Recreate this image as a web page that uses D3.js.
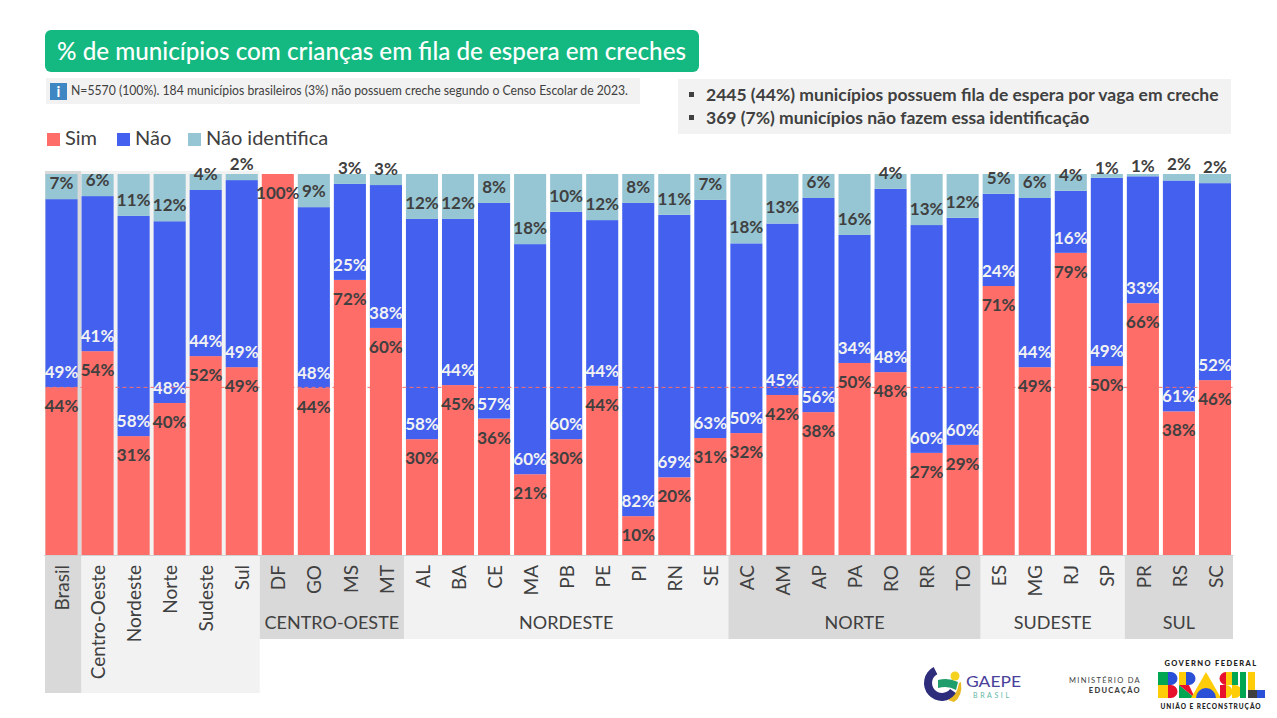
<!DOCTYPE html>
<html>
<head>
<meta charset="utf-8">
<script src="https://cdn.jsdelivr.net/npm/d3@7"></script>
<style>
  html, body { margin: 0; padding: 0; background: #fff; }
  svg { display: block; }
  text { font-family: Lato, "Open Sans", sans-serif; fill: #404040; }
</style>
</head>
<body>
<svg id="board" width="1277" height="718"></svg>
<script>
var categories = ['Brasil', 'Centro-Oeste', 'Nordeste', 'Norte', 'Sudeste', 'Sul',
  'DF', 'GO', 'MS', 'MT',
  'AL', 'BA', 'CE', 'MA', 'PB', 'PE', 'PI', 'RN', 'SE',
  'AC', 'AM', 'AP', 'PA', 'RO', 'RR', 'TO',
  'ES', 'MG', 'RJ', 'SP',
  'PR', 'RS', 'SC'];

var sim = [44, 53.5, 31.2, 39.9, 52.2, 49.3,
  100, 43.8, 72.2, 59.6,
  30.4, 44.6, 35.8, 21.2, 30.4, 44.4, 10.2, 20.4, 30.7,
  32, 42, 37.5, 50.4, 48, 26.8, 28.9,
  70.6, 49.3, 79.3, 49.6,
  66.1, 37.7, 45.9];
var nao = [49.4, 40.7, 57.8, 47.7, 43.6, 49.1,
  0, 47.5, 25.2, 37.5,
  57.8, 43.6, 56.6, 60.4, 59.7, 43.5, 82.2, 68.9, 62.5,
  49.8, 45, 56.2, 33.6, 48.1, 59.8, 59.6,
  24.2, 44.4, 16.3, 49.4,
  33.3, 60.6, 51.7];
var naoIdentifica = [6.6, 5.8, 11, 12.4, 4.2, 1.6,
  0, 8.7, 2.6, 2.9,
  11.8, 11.8, 7.6, 18.4, 9.9, 12.1, 7.6, 10.7, 6.8,
  18.2, 13, 6.3, 16, 3.9, 13.4, 11.5,
  5.2, 6.3, 4.4, 1,
  0.6, 1.7, 2.4];

var seriesNames = ['Sim', 'Não', 'Não identifica'];
var seriesColors = ['#ff6d69', '#4361ee', '#96c6d4'];
var groupNames = ['CENTRO-OESTE', 'NORDESTE', 'NORTE', 'SUDESTE', 'SUL'];
var groupSizes = [4, 9, 7, 4, 3];

var titleText = '% de municípios com crianças em fila de espera em creches';
var noteText = 'N=5570 (100%). 184 municípios brasileiros (3%) não possuem creche segundo o Censo Escolar de 2023.';
var bullets = ['2445 (44%) municípios possuem fila de espera por vaga em creche',
  '369 (7%) municípios não fazem essa identificação'];

var svg = d3.select('#board');
var grey = '#d9d9d9';
var light = '#f2f2f2';

var x = d3.scaleBand().domain(categories).range([43.5, 1233]).paddingInner(0.11).paddingOuter(0.055);
var y = d3.scaleLinear().domain([0, 100]).range([555, 174]);
var step = x.step();
function left(i) { return x(categories[i]) - (step - x.bandwidth()) / 2; }
function right(i) { return left(i) + step; }

// bands behind the bars and the tick labels
function band(x0, x1, y0, y1, fill) {
  svg.append('rect').attr('x', x0).attr('y', y0)
    .attr('width', x1 - x0).attr('height', y1 - y0).attr('fill', fill);
}
band(45, x('Centro-Oeste'), 171, 693, grey);
band(x('Centro-Oeste'), right(5), 171, 693, light);

var start = 6;
groupNames.forEach(function(name, k) {
  var from = start, to = start + groupSizes[k] - 1;
  start += groupSizes[k];
  band(left(from), right(to), 555, 639, k % 2 ? light : grey);
  svg.append('text')
    .attr('x', (left(from) + right(to)) / 2).attr('y', 629)
    .attr('text-anchor', 'middle').attr('font-size', 18)
    .text(name);
});

// stacked bars
var rows = categories.map(function(c, i) {
  return { cat: c, Sim: sim[i], 'Não': nao[i], 'Não identifica': naoIdentifica[i] };
});
var stacked = d3.stack().keys(seriesNames)(rows);

svg.selectAll('g.series').data(stacked).enter().append('g')
  .attr('class', 'series')
  .attr('fill', function(d, i) { return seriesColors[i]; })
  .selectAll('rect').data(function(d) { return d; }).enter().append('rect')
  .attr('x', function(d) { return x(d.data.cat); })
  .attr('width', x.bandwidth())
  .attr('y', function(d) { return y(d[1]); })
  .attr('height', function(d) { return y(d[0]) - y(d[1]); });

// reference line at the Brasil value
svg.append('line')
  .attr('x1', x.range()[0] + 2).attr('x2', x.range()[1])
  .attr('y1', y(sim[0])).attr('y2', y(sim[0]))
  .attr('stroke', '#ff6d69').attr('stroke-width', 1)
  .attr('stroke-dasharray', '4 3');

// value labels
function valueLabel(g, px, py, value, color) {
  g.append('text')
    .attr('x', px).attr('y', py).attr('dy', '0.35em')
    .attr('text-anchor', 'middle').attr('font-size', 17).attr('font-weight', 700)
    .style('fill', color)
    .text(Math.round(value) + '%');
}
var labels = svg.append('g');
rows.forEach(function(r, i) {
  var cx = x(r.cat) + x.bandwidth() / 2;
  if (sim[i] > 0) valueLabel(labels, cx, y(sim[i]) + 19, sim[i], '#404040');
  if (nao[i] > 0) valueLabel(labels, cx, y(sim[i]) - 15, nao[i], '#f2f2f2');
  if (naoIdentifica[i] > 0) {
    var off = naoIdentifica[i] <= 1 ? 10 : 16;
    valueLabel(labels, cx, y(sim[i] + nao[i]) - off, naoIdentifica[i], '#404040');
  }
});

// category axis, rotated labels
var axis = svg.append('g').attr('transform', 'translate(0,555)')
  .call(d3.axisBottom(x).tickSize(0).tickPadding(0));
axis.select('.domain').attr('stroke', '#d0d0d0');
axis.selectAll('text')
  .attr('font-size', 19).attr('font-family', 'Lato').style('fill', '#404040')
  .attr('text-anchor', 'end').attr('dy', '0.35em')
  .attr('transform', 'translate(1,10) rotate(-90)')
  .attr('y', 0).attr('x', 0);

// title
svg.append('rect').attr('x', 45).attr('y', 30).attr('width', 654).attr('height', 42)
  .attr('rx', 6).attr('fill', '#14b981');
svg.append('text').attr('x', 57).attr('y', 60).attr('font-size', 25).attr('font-weight', 500)
  .style('fill', '#fff').attr('textLength', 629).attr('lengthAdjust', 'spacingAndGlyphs').text(titleText);

// note
band(46, 640, 78, 104, light);
svg.append('rect').attr('x', 50).attr('y', 83).attr('width', 17).attr('height', 17).attr('fill', '#3f87c2');
svg.append('text').attr('x', 58.5).attr('y', 97).attr('text-anchor', 'middle')
  .attr('font-size', 15).attr('font-weight', 700).style('fill', '#fff').text('i');
svg.append('text').attr('x', 71).attr('y', 95).attr('font-size', 13)
  .attr('textLength', 557).attr('lengthAdjust', 'spacingAndGlyphs').text(noteText);

// bullets box
band(678, 1231, 79, 134, light);
bullets.forEach(function(t, i) {
  var by = 101 + i * 23;
  svg.append('rect').attr('x', 689).attr('y', by - 9).attr('width', 5).attr('height', 5).attr('fill', '#404040');
  svg.append('text').attr('x', 706).attr('y', by).attr('font-size', 17.5).attr('font-weight', 700)
    .text(t);
});

// legend
var legendX = [47, 117, 188];
seriesNames.forEach(function(s, i) {
  svg.append('rect').attr('x', legendX[i]).attr('y', 133).attr('width', 13).attr('height', 13).attr('fill', seriesColors[i]);
  svg.append('text').attr('x', legendX[i] + 18).attr('y', 145).attr('font-size', 20).text(s);
});

// logos
var gaepe = svg.append('g');
gaepe.append('path').attr('d', d3.arc()({ innerRadius: 10, outerRadius: 18, startAngle: 2.2, endAngle: 5.8 }))
  .attr('transform', 'translate(942,683)').attr('fill', '#2d2d7c');
gaepe.append('path').attr('d', 'M938 680 q10 -3 20 2 l-2 8 q-8 -5 -18 -2 z').attr('fill', '#1f9d6b');
gaepe.append('path').attr('d', 'M948 700 q9 -4 11 -17 l2 -1 q2 14 -7 20 z').attr('fill', '#e8b923');
gaepe.append('circle').attr('cx', 955).attr('cy', 676).attr('r', 4.5).attr('fill', '#f4d21f');
svg.append('text').attr('x', 966).attr('y', 687).attr('font-size', 16).style('fill', '#4a3f9b')
  .attr('textLength', 55).attr('lengthAdjust', 'spacingAndGlyphs').text('GAEPE');
svg.append('text').attr('x', 973).attr('y', 698).attr('font-size', 7).attr('letter-spacing', 2.6).style('fill', '#5fb7a5').text('BRASIL');

svg.append('text').attr('x', 1141).attr('y', 683).attr('text-anchor', 'end').attr('font-size', 7.5)
  .attr('letter-spacing', 1.3).text('MINISTÉRIO DA');
svg.append('text').attr('x', 1141).attr('y', 693).attr('text-anchor', 'end').attr('font-size', 7.5)
  .attr('font-weight', 900).attr('letter-spacing', 1.3).text('EDUCAÇÃO');

svg.append('text').attr('x', 1211).attr('y', 666).attr('text-anchor', 'middle').attr('font-size', 7.5)
  .attr('font-weight', 900).attr('letter-spacing', 1.4).style('fill', '#222').text('GOVERNO FEDERAL');
svg.append('text').attr('x', 1211).attr('y', 709).attr('text-anchor', 'middle').attr('font-size', 6.5)
  .attr('font-weight', 900).attr('letter-spacing', 1).style('fill', '#222').text('UNIÃO E RECONSTRUÇÃO');

// Brasil wordmark, made of coloured shapes
var logoShapes = [
  ['M1158 672h10v13h-10z', '#00a651'], ['M1168 672h3a6.5 6.5 0 0 1 0 13h-3z', '#2b50d8'],
  ['M1158 685h10v13h-10z', '#ffcd07'], ['M1168 685h3a6.5 6.5 0 0 1 0 13h-3z', '#e8112d'],
  ['M1179 672h7v13h-7z', '#ffcd07'], ['M1186 672h3a6.5 6.5 0 0 1 0 13h-3z', '#2b50d8'],
  ['M1179 685l16 13h-16z', '#00a651'], ['M1179 685h10l6 13z', '#e8112d'],
  ['M1206 672l15 26h-30z', '#ffcd07'], ['M1196 698a10 10 0 0 1 20 0z', '#2b50d8'],
  ['M1226 672a6.5 6.5 0 0 0 0 13z', '#e8112d'], ['M1226 672h6v13h-6z', '#ffcd07'],
  ['M1232 672h6v13h-6z', '#00a651'], ['M1220 685h6v13h-6z', '#e8112d'],
  ['M1226 685a6.5 6.5 0 0 1 0 13z', '#ffcd07'], ['M1232 685h3a6.5 6.5 0 0 1 0 13h-3z', '#ffcd07'],
  ['M1240 672h6v26h-6z', '#00a651'], ['M1248 672h7v18h-7z', '#ffcd07'],
  ['M1248 690h9v8h-9z', '#404040'], ['M1257 690h8v8h-8z', '#2b50d8']
];
svg.append('g').selectAll('path').data(logoShapes).enter().append('path')
  .attr('d', function(d) { return d[0]; })
  .attr('fill', function(d) { return d[1]; });
</script>
</body>
</html>
